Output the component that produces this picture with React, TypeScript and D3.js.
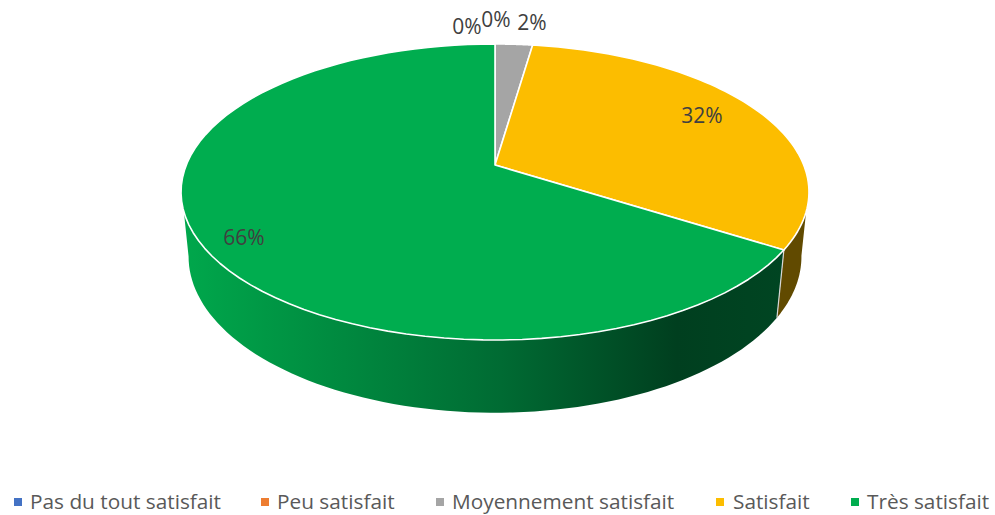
import React from "react";
import * as d3 from "d3";

const categories = ["Pas du tout satisfait", "Peu satisfait", "Moyennement satisfait", "Satisfait", "Très satisfait"];
const values = [0, 0, 2.3, 31.7, 66];
const colors = ["#4472C4", "#ED7D31", "#A5A5A5", "#FCBD00", "#00AD4F"];
const sideColors = ["#2a4478", "#8f4b1d", "#636363", "#614a00", "url(#wall)"];
const labelPos = [[467, 28], [496, 21], [532, 24], [702, 117], [244, 239]];
const legendSwatchX = [14, 261, 436, 716, 851];
const legendTextX = [30, 277, 452, 733, 867];

const cx = 495, cy = 165, p = 0.1824, A = 143.07, B = 308.7;
const top = (t: number): [number, number] => {
  const u = Math.sin(t), v = Math.cos(t), w = 1 + p * v;
  return [cx + (B * u) / w, cy - (A * v) / w];
};
const bottom = (t: number): [number, number] => {
  const [x, y] = top(t);
  return [cx + (x - cx) * 0.976, 228 + (y - cy) * 1.0556];
};
const range = (a: number, b: number) => d3.range(0, 81).map((i) => a + ((b - a) * i) / 80);
const line = d3.line();

export default function App() {
  const arcs = d3.pie<number>().sort(null).value((d) => d)(values);
  const tau = Math.PI * 2;
  const front = (a: number, b: number) => {
    const topLo = Math.max(a, 1.885), topHi = Math.min(b, 4.398);
    const botLo = Math.max(a, 1.75), botHi = Math.min(b, 4.53);
    if (topHi <= topLo) return null;
    return line([...range(topLo, topHi).map(top), ...range(botHi, botLo).map(bottom)]) + "Z";
  };
  return (
    <svg width={995} height={515} style={{ position: "absolute", left: 0, top: 0, background: "#fff" }} fontFamily="'Open Sans', sans-serif">
      <defs>
        <linearGradient id="wall" gradientUnits="userSpaceOnUse" x1={181} x2={785} y1={0} y2={0}>
          <stop offset="0" stopColor="#00a84c" />
          <stop offset="0.14" stopColor="#009845" />
          <stop offset="0.53" stopColor="#006b33" />
          <stop offset="0.82" stopColor="#003f1f" />
          <stop offset="1" stopColor="#004522" />
        </linearGradient>
      </defs>
      {arcs.map((d, i) => {
        const path = front(d.startAngle, d.endAngle);
        return path ? <path key={i} d={path} fill={sideColors[i]} /> : null;
      })}
      {(() => {
        const t = arcs[3].endAngle;
        return <line x1={top(t)[0]} y1={top(t)[1]} x2={bottom(t)[0]} y2={bottom(t)[1]} stroke="#d8d8d8" strokeWidth={1.2} />;
      })()}
      {arcs.map((d, i) =>
        d.endAngle > d.startAngle ? (
          <path
            key={i}
            d={(line([[cx, cy], ...range(d.startAngle, Math.min(d.endAngle, tau)).map(top)]) as string) + "Z"}
            fill={colors[i]}
            stroke="#fff"
            strokeWidth={1.6}
            strokeLinejoin="round"
          />
        ) : null
      )}
      {arcs.map((d, i) => (
        <text key={i} x={labelPos[i][0]} y={labelPos[i][1]} textAnchor="middle" dominantBaseline="middle" fontSize={21} fill="#404040">
          {Math.round(d.value)}%
        </text>
      ))}
      {categories.map((c, i) => (
        <g key={c}>
          <rect x={legendSwatchX[i]} y={498} width={8} height={8} fill={colors[i]} />
          <text x={legendTextX[i]} y={509} fontSize={20.8} fill="#595959">{c}</text>
        </g>
      ))}
    </svg>
  );
}
